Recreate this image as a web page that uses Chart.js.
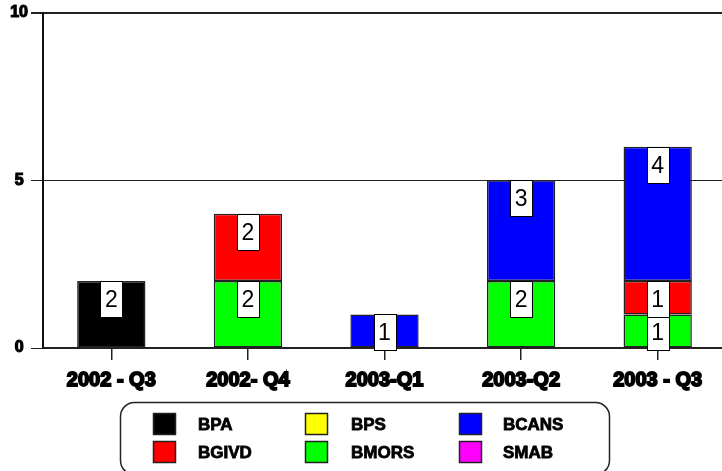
<!DOCTYPE html>
<html>
<head>
<meta charset="utf-8">
<script src="https://cdn.jsdelivr.net/npm/chart.js@4/dist/chart.umd.min.js"></script>
<style>
html,body{margin:0;padding:0;background:#fff;overflow:hidden;}
#wrap{width:722px;height:471px;position:relative;overflow:hidden;}
#c{display:block;}
</style>
</head>
<body>
<div id="wrap"><canvas id="c" width="726" height="471"></canvas></div>
<script>
// ---- data ----
const categories = ["2002 - Q3", "2002- Q4", "2003-Q1", "2003-Q2", "2003 - Q3"];
const yTicks = [0, 5, 10];
const BMORS = [null, 2, null, 2, 1];
const BGIVD = [null, 2, null, null, 1];
const BCANS = [null, null, 1, 3, 4];
const BPA   = [2, null, null, null, null];
const BPS   = [null, null, null, null, null];
const SMAB  = [null, null, null, null, null];
const legendOrder = ["BPA", "BGIVD", "BPS", "BMORS", "BCANS", "SMAB"];

const colors = {BPA:"#000000", BGIVD:"#ff0000", BPS:"#ffff00", BMORS:"#00ff00", BCANS:"#0000ff", SMAB:"#ff00ff"};
const series = {BMORS, BGIVD, BCANS, BPA, BPS, SMAB};

const datasets = Object.keys(series).map(k => ({
  label: k,
  data: series[k],
  backgroundColor: colors[k],
  borderColor: "#222",
  borderWidth: 1.5,
  borderSkipped: false,
  categoryPercentage: 1,
  barPercentage: 0.5
}));

const valueBoxes = {
  id: "valueBoxes",
  afterDatasetsDraw(chart) {
    const ctx = chart.ctx;
    ctx.save();
    chart.data.datasets.forEach((ds, di) => {
      const meta = chart.getDatasetMeta(di);
      meta.data.forEach((el, i) => {
        const v = ds.data[i];
        if (v == null) return;
        const w = 22, h = 36;
        const x = Math.round(el.x - w / 2) + 0.5, y = Math.round(el.y) + 0.5;
        ctx.fillStyle = "#fff";
        ctx.fillRect(x, y, w, h);
        ctx.strokeStyle = "#000";
        ctx.lineWidth = 1;
        ctx.strokeRect(x, y, w, h);
        ctx.fillStyle = "#000";
        ctx.font = "23px 'Liberation Sans', Arial, sans-serif";
        ctx.textAlign = "center";
        ctx.textBaseline = "middle";
        ctx.fillText(String(v), el.x, y + h / 2 + 1);
      });
    });
    ctx.restore();
  }
};

const boxLegend = {
  id: "boxLegend",
  afterDraw(chart) {
    const ctx = chart.ctx;
    ctx.save();
    // rounded frame
    const fx = 120.5, fy = 402.5, fw = 489, fh = 72, r = 14;
    ctx.beginPath();
    ctx.moveTo(fx + r, fy);
    ctx.lineTo(fx + fw - r, fy);
    ctx.arcTo(fx + fw, fy, fx + fw, fy + r, r);
    ctx.lineTo(fx + fw, fy + fh - r);
    ctx.arcTo(fx + fw, fy + fh, fx + fw - r, fy + fh, r);
    ctx.lineTo(fx + r, fy + fh);
    ctx.arcTo(fx, fy + fh, fx, fy + fh - r, r);
    ctx.lineTo(fx, fy + r);
    ctx.arcTo(fx, fy, fx + r, fy, r);
    ctx.closePath();
    ctx.strokeStyle = "#222";
    ctx.lineWidth = 1.5;
    ctx.stroke();
    const colX = [153, 305, 459];
    const textX = [198, 351, 503];
    const rowY = [413, 441];
    legendOrder.forEach((name, idx) => {
      const c = Math.floor(idx / 2), rr = idx % 2;
      ctx.fillStyle = colors[name];
      ctx.fillRect(colX[c], rowY[rr], 23, 22);
      ctx.strokeStyle = "#222";
      ctx.lineWidth = 1.5;
      ctx.strokeRect(colX[c] + 0.5, rowY[rr] + 0.5, 22, 21);
      ctx.fillStyle = "#000";
      ctx.font = "bold 17px 'Liberation Sans', Arial, sans-serif";
      ctx.textAlign = "left";
      ctx.textBaseline = "middle";
      ctx.strokeStyle = "#000";
      ctx.lineWidth = 0.8;
      ctx.fillText(name, textX[c], rowY[rr] + 12);
      ctx.strokeText(name, textX[c], rowY[rr] + 12);
    });
    ctx.restore();
  }
};

new Chart(document.getElementById("c"), {
  type: "bar",
  data: { labels: categories, datasets },
  plugins: [valueBoxes, boxLegend],
  options: {
    responsive: false,
    animation: false,
    layout: { padding: { top: 11, left: 0, right: 0, bottom: 0 } },
    plugins: { legend: { display: false }, tooltip: { enabled: false } },
    scales: {
      x: {
        stacked: true,
        afterFit(s) { s.height = 123; },
        grid: { offset: false, drawOnChartArea: false, tickLength: 12, color: "#222", lineWidth: 1.5 },
        border: { display: true, color: "#222", width: 1.5 },
        ticks: {
          color: "#000",
          padding: 8,
          maxRotation: 0,
          autoSkip: false,
          font: { family: "'Liberation Sans', Arial, sans-serif", size: 20, weight: "bold" },
          textStrokeColor: "#000",
          textStrokeWidth: 1.8
        }
      },
      y: {
        stacked: true,
        min: 0,
        max: 10,
        afterFit(s) { s.width = 43; },
        afterBuildTicks(s) { s.ticks = yTicks.map(v => ({ value: v })); },
        grid: {
          color: "#222",
          lineWidth: (c) => (c.tick && c.tick.value === 10 ? 2 : 1),
          tickLength: 12
        },
        border: { display: true, color: "#111", width: 2 },
        ticks: {
          color: "#000",
          padding: 3,
          crossAlign: "center",
          font: { family: "'Liberation Sans', Arial, sans-serif", size: 16, weight: "bold" },
          textStrokeColor: "#000",
          textStrokeWidth: 1.2
        }
      }
    }
  }
});
</script>
</body>
</html>
